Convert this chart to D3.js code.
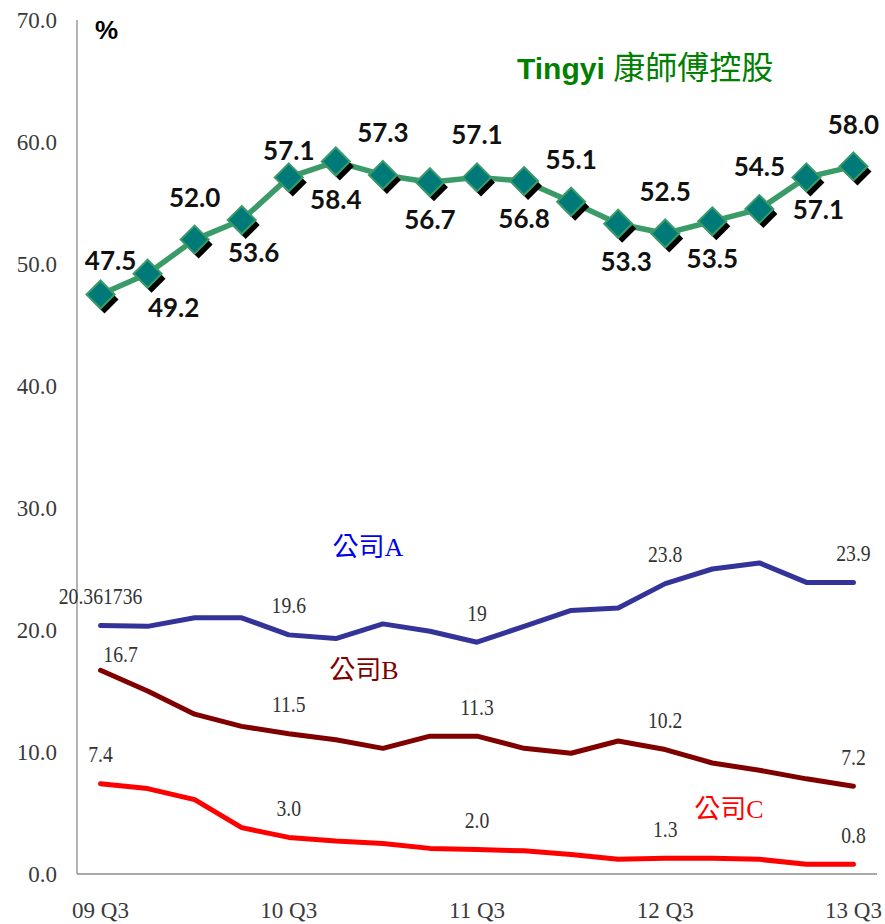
<!DOCTYPE html>
<html lang="zh-Hant">
<head>
<meta charset="utf-8">
<title>Tingyi 康師傅控股</title>
<script src="https://d3js.org/d3.v7.min.js"></script>
<style>
  body { margin: 0; background: #fff; }
  .tick-lbl { font-family: "Liberation Serif", serif; font-size: 23px; fill: #3a3a3a; }
  .val-big { font-family: Lato, "Open Sans", sans-serif; font-weight: 700; font-size: 26px; fill: #111; }
  .val-small { font-family: "Liberation Serif", serif; font-size: 24px; fill: #333; }
</style>
</head>
<body>
<svg width="885" height="924"></svg>
<script>
  // data
  var quarters = ["09 Q3","09 Q4","10 Q1","10 Q2","10 Q3","10 Q4","11 Q1","11 Q2","11 Q3",
                  "11 Q4","12 Q1","12 Q2","12 Q3","12 Q4","13 Q1","13 Q2","13 Q3"];
  var tingyi = [47.5,49.2,52.0,53.6,57.1,58.4,57.3,56.7,57.1,56.8,55.1,53.3,52.5,53.5,54.5,57.1,58.0];
  var compA = [20.361736,20.3,21.0,21.0,19.6,19.3,20.5,19.9,19.0,20.3,21.6,21.8,23.8,25.0,25.5,23.9,23.9];
  var compB = [16.7,15.0,13.1,12.1,11.5,11.0,10.3,11.3,11.3,10.3,9.9,10.9,10.2,9.1,8.5,7.8,7.2];
  var compC = [7.4,7.0,6.1,3.8,3.0,2.7,2.5,2.1,2.0,1.9,1.6,1.2,1.3,1.3,1.2,0.8,0.8];
  var yTicks = [0,10,20,30,40,50,60,70];
  var xTickLabels = ["09 Q3","10 Q3","11 Q3","12 Q3","13 Q3"];
  var labelIdx = [0,4,8,12,16];
  var labelA = ["20.361736","19.6","19","23.8","23.9"];
  var labelB = ["16.7","11.5","11.3","10.2","7.2"];
  var labelC = ["7.4","3.0","2.0","1.3","0.8"];

  var svg = d3.select("svg");

  var x = d3.scaleBand().domain(quarters).range([77, 877]);
  var y = d3.scaleLinear().domain([0, 70]).range([874, 20]);
  var cx = function(i) { return x(quarters[i]) + x.bandwidth() / 2; };

  // axes
  svg.append("line").attr("x1", 77).attr("x2", 77).attr("y1", y(70)).attr("y2", y(0))
    .attr("stroke", "#8c8c8c").attr("stroke-width", 1.3);
  svg.append("line").attr("x1", 77).attr("x2", 877).attr("y1", y(0)).attr("y2", y(0))
    .attr("stroke", "#8c8c8c").attr("stroke-width", 1.3);

  svg.selectAll(".ylbl").data(yTicks).enter().append("text")
    .attr("class", "tick-lbl")
    .attr("x", 57).attr("y", function(d) { return y(d); })
    .attr("dy", "0.35em").attr("text-anchor", "end")
    .text(function(d) { return d.toFixed(1); });

  svg.selectAll(".xlbl").data(xTickLabels).enter().append("text")
    .attr("class", "tick-lbl")
    .attr("x", function(d) { return x(d) + x.bandwidth() / 2; })
    .attr("y", 918).attr("text-anchor", "middle")
    .text(function(d) { return d; });

  svg.append("text").attr("x", 95).attr("y", 39)
    .style("font-family", "Liberation Sans, Arial, sans-serif").style("font-weight", "bold")
    .style("font-size", "26px").text("%");

  var line = d3.line().x(function(d, i) { return cx(i); }).y(function(d) { return y(d); });

  // small series
  var small = [
    { vals: compA, color: "#333399", labels: labelA, name: "公司A", nameColor: "#0000ee", nx: 368, ny: 547 },
    { vals: compB, color: "#800000", labels: labelB, name: "公司B", nameColor: "#800000", nx: 364, ny: 670 },
    { vals: compC, color: "#ff0000", labels: labelC, name: "公司C", nameColor: "#ff0000", nx: 729, ny: 809 }
  ];

  small.forEach(function(s, si) {
    svg.append("path").datum(s.vals).attr("d", line)
      .attr("fill", "none").attr("stroke", s.color).attr("stroke-width", 5)
      .attr("stroke-linejoin", "round").attr("stroke-linecap", "round");

    // the labels in the original are narrow, so squeeze them horizontally
    svg.selectAll(null).data(s.labels).enter().append("text")
      .attr("class", "val-small")
      .attr("transform", function(d, k) {
        var xx = cx(labelIdx[k]), yy = y(s.vals[labelIdx[k]]) - 30;
        if (si === 1 && k === 0) { xx += 20; yy += 13; }
        return "translate(" + xx + "," + yy + ") scale(0.82,1)";
      })
      .attr("dy", "0.35em").attr("text-anchor", "middle")
      .text(function(d) { return d; });

    svg.append("text").attr("x", s.nx).attr("y", s.ny).attr("dy", "0.35em")
      .attr("text-anchor", "middle")
      .style("font-family", "Liberation Serif, 'Noto Sans CJK TC', serif")
      .style("font-size", "26px").style("fill", s.nameColor)
      .text(s.name);
  });

  // Tingyi series
  svg.append("path").datum(tingyi).attr("d", line)
    .attr("fill", "none").attr("stroke", "#3a9b68").attr("stroke-width", 5.5)
    .attr("stroke-linejoin", "round");

  var diamond = "M0,-14L14,0L0,14L-14,0Z";

  svg.selectAll(".shadow").data(tingyi).enter().append("path")
    .attr("d", diamond)
    .attr("transform", function(d, i) { return "translate(" + (cx(i) + 4) + "," + (y(d) + 5) + ")"; })
    .attr("fill", "#000");

  svg.selectAll(".mk").data(tingyi).enter().append("path")
    .attr("d", diamond)
    .attr("transform", function(d, i) { return "translate(" + cx(i) + "," + y(d) + ")"; })
    .attr("fill", "#007a78").attr("stroke", "#3a9b68").attr("stroke-width", 2);

  // labels alternate above / below; a few are nudged like in the original
  var nudge = { 0: [10, 8], 1: [26, -4], 3: [12, -5], 4: [0, 16], 11: [8, 0], 15: [12, -5] };
  svg.selectAll(".tv").data(tingyi).enter().append("text")
    .attr("class", "val-big")
    .attr("x", function(d, i) { return cx(i) + (nudge[i] ? nudge[i][0] : 0); })
    .attr("y", function(d, i) { return y(d) + (i % 2 === 0 ? -42 : 38) + (nudge[i] ? nudge[i][1] : 0); })
    .attr("dy", "0.35em").attr("text-anchor", "middle")
    .text(function(d) { return d.toFixed(1); });

  // title
  var title = svg.append("text").attr("x", 517).attr("y", 79)
    .style("fill", "#008000");
  title.append("tspan").text("Tingyi ")
    .style("font-family", "Liberation Sans, Arial, sans-serif").style("font-weight", "bold")
    .style("font-size", "30px");
  title.append("tspan").text("康師傅控股")
    .style("font-family", "'Noto Sans CJK TC', sans-serif")
    .style("font-size", "32px");
</script>
</body>
</html>
